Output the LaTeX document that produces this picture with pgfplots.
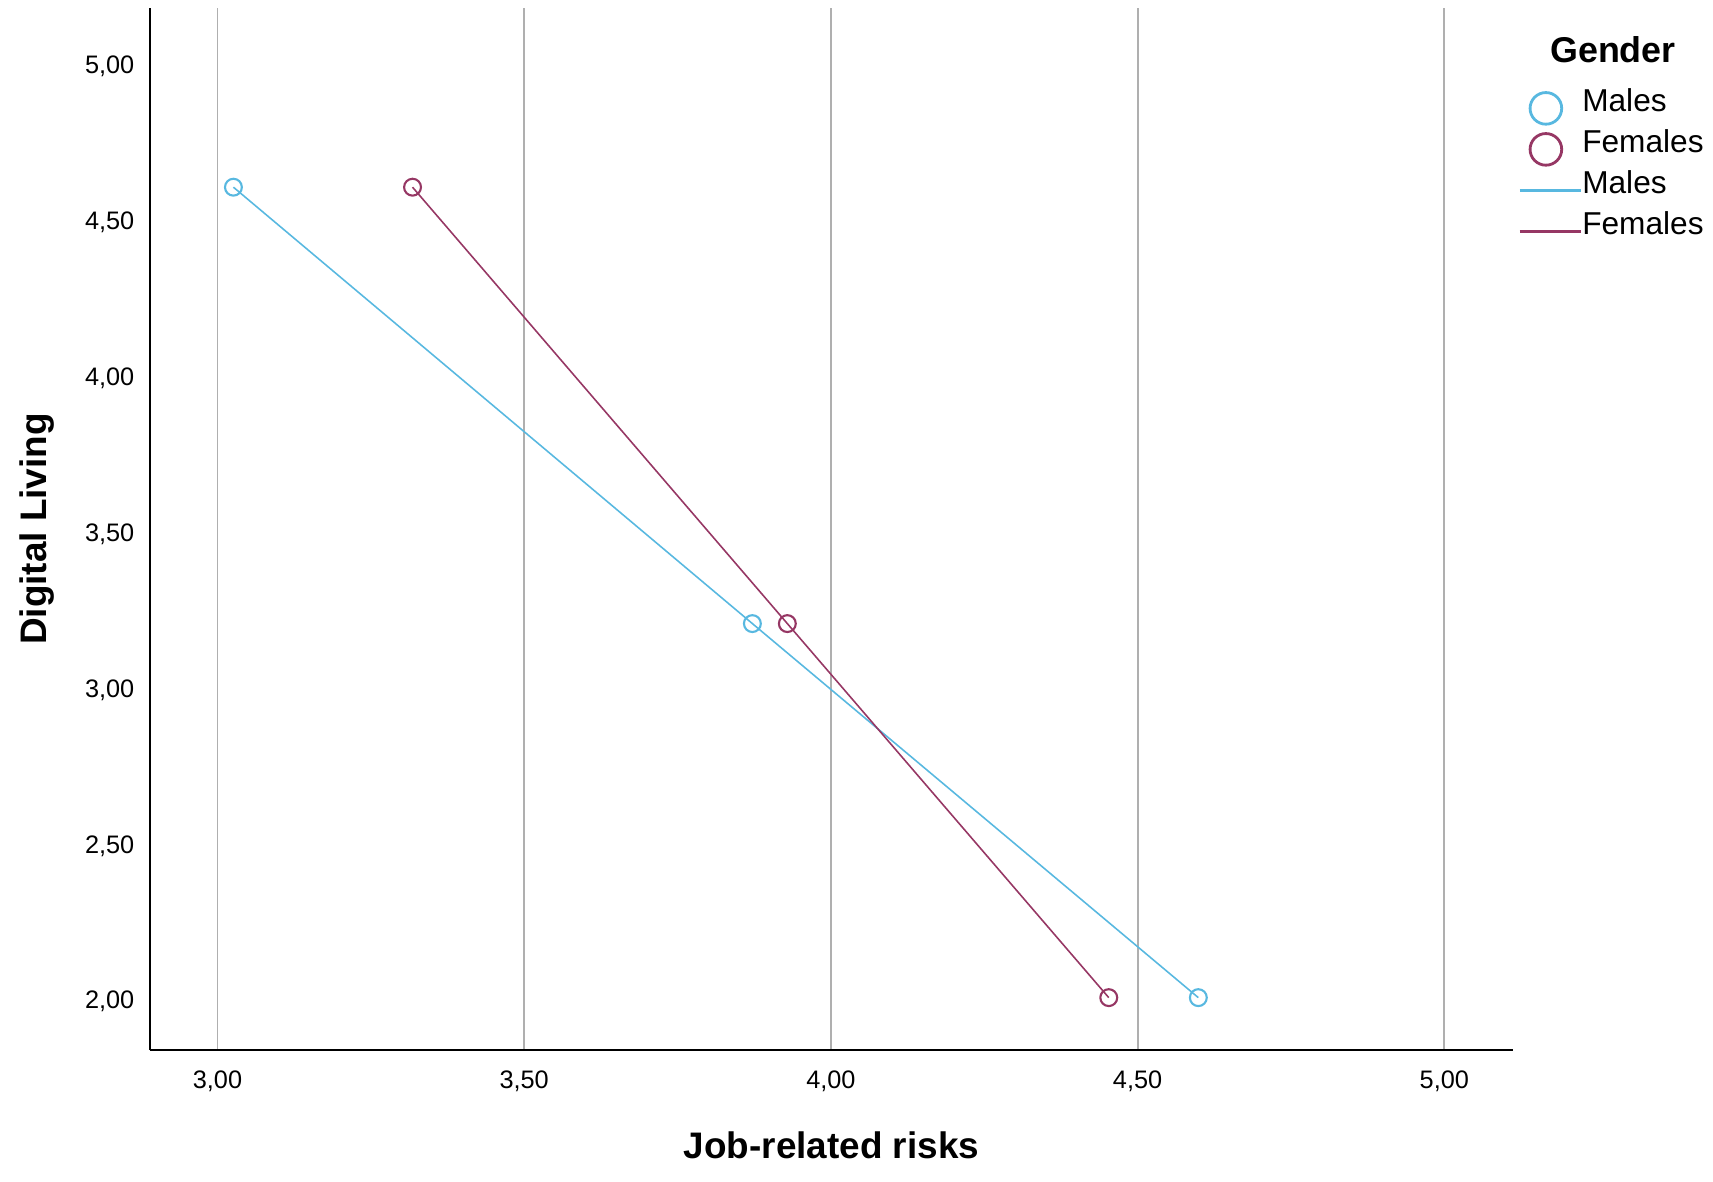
\documentclass[border=0pt]{standalone}
\usepackage{pgfplots}
\pgfplotsset{compat=1.18}
\usepackage{fontspec}
\setmainfont{Liberation Sans}
\definecolor{males}{RGB}{88,184,224}
\definecolor{females}{RGB}{150,55,100}
\definecolor{gridgray}{RGB}{175,175,175}
\begin{document}
\begin{tikzpicture}
\begin{axis}[
  at={(0,0)}, anchor=south west,
  scale only axis, width=136.3mm, height=104.2mm,
  xmin=2.89, xmax=5.112, ymin=1.845, ymax=5.188,
  axis lines=left, axis line style={-, line width=0.6pt, black},
  xtick={3,3.5,4,4.5,5}, ytick={2,2.5,3,3.5,4,4.5,5},
  major tick length=0pt,
  xmajorgrids, grid style={gridgray, line width=0.55pt},
  /pgf/number format/assume math mode=true,
  /pgf/number format/fixed,
  /pgf/number format/fixed zerofill,
  /pgf/number format/precision=2,
  /pgf/number format/use comma,
  tick label style={font=\fontsize{7.2}{8}\selectfont, inner sep=0pt},
  xticklabel style={anchor=north, yshift=-2mm},
  yticklabel style={anchor=east, xshift=-1.5mm},
  xlabel={Job-related risks},
  xlabel style={at={(axis description cs:0.5,-0.1046)}, anchor=base, font=\bfseries\fontsize{10.5}{12}\selectfont},
  ylabel={Digital Living},
  ylabel style={at={(axis description cs:-0.0756,0.5)}, anchor=base, font=\bfseries\fontsize{10.5}{12}\selectfont},
  clip=false,
  legend style={draw=none, fill=none, at={(rel axis cs:1.0035,0.924)}, anchor=north west,
    font=\fontsize{9}{10}\selectfont, inner sep=0pt, row sep=0pt, column sep=0pt,
    nodes={inner sep=0pt, text height=2.4mm, text depth=1.7mm}},
  legend cell align=left,
  legend image code/.code={\draw[mark repeat=2,mark phase=2,#1] plot coordinates {(0mm,0mm) (2.6mm,0mm) (5.2mm,0mm)}; \path (0mm,0mm) -- (6.1mm,0mm);},
]
\addplot[males, line width=0.45pt, mark=o, mark size=2.4pt, mark options={line width=0.6pt}, forget plot]
  coordinates {(3.026,4.613) (3.872,3.213) (4.599,2.013)};
\addplot[females, line width=0.45pt, mark=o, mark size=2.4pt, mark options={line width=0.6pt}, forget plot]
  coordinates {(3.318,4.613) (3.929,3.213) (4.453,2.013)};
\addlegendimage{males, draw opacity=0, mark=o, mark size=4.5pt, mark options={draw opacity=1, line width=0.8pt}}
\addlegendentry{Males}
\addlegendimage{females, draw opacity=0, mark=o, mark size=4.5pt, mark options={draw opacity=1, line width=0.8pt}}
\addlegendentry{Females}
\addlegendimage{males, line width=0.8pt}
\addlegendentry{Males}
\addlegendimage{females, line width=0.8pt}
\addlegendentry{Females}
\node[anchor=base, font=\bfseries\fontsize{10.2}{12}\selectfont] at (rel axis cs:1.0733,0.9472) {Gender};
\end{axis}
\pgfresetboundingbox
\useasboundingbox (-15mm,-13.1mm) rectangle (156.3mm,105mm);
\end{tikzpicture}
\end{document}
